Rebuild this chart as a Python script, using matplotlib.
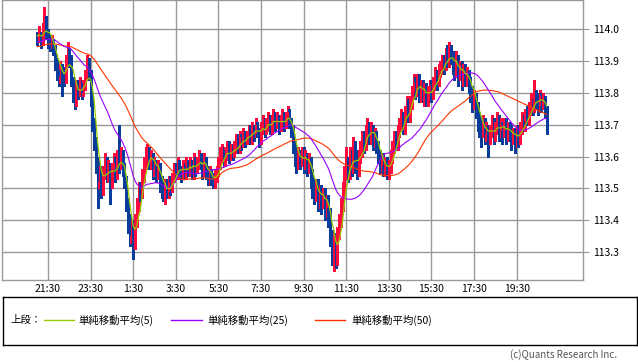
import matplotlib
matplotlib.use('Agg')
import matplotlib.pyplot as plt
import numpy as np
import pandas as pd

plt.rcParams['font.family'] = ['Noto Sans CJK JP', 'DejaVu Sans']

# 5-minute candles from 21:00, one row per hour
close_rows = [
    [113.97, 113.99, 113.96, 114.00, 114.03, 113.99, 113.97, 113.95, 113.96, 113.94, 113.90, 113.87],
    [113.85, 113.88, 113.86, 113.84, 113.90, 113.93, 113.91, 113.84, 113.80, 113.78, 113.82, 113.81],
    [113.83, 113.80, 113.82, 113.85, 113.90, 113.86, 113.78, 113.70, 113.64, 113.58, 113.52, 113.55],
    [113.50, 113.55, 113.58, 113.54, 113.57, 113.52, 113.56, 113.58, 113.55, 113.60, 113.58, 113.60],
    [113.56, 113.52, 113.45, 113.40, 113.35, 113.38, 113.33, 113.40, 113.45, 113.50, 113.48, 113.54],
    [113.58, 113.60, 113.62, 113.58, 113.60, 113.56, 113.58, 113.55, 113.57, 113.52, 113.50, 113.48],
    [113.51, 113.49, 113.52, 113.50, 113.53, 113.56, 113.55, 113.58, 113.56, 113.54, 113.57, 113.55],
    [113.58, 113.56, 113.58, 113.55, 113.59, 113.56, 113.58, 113.60, 113.58, 113.56, 113.59, 113.55],
    [113.53, 113.55, 113.53, 113.52, 113.54, 113.55, 113.58, 113.60, 113.62, 113.59, 113.61, 113.63],
    [113.60, 113.62, 113.61, 113.63, 113.65, 113.62, 113.66, 113.64, 113.67, 113.65, 113.66, 113.68],
    [113.66, 113.69, 113.67, 113.70, 113.68, 113.66, 113.69, 113.71, 113.68, 113.70, 113.72, 113.69],
    [113.71, 113.73, 113.70, 113.72, 113.69, 113.71, 113.73, 113.70, 113.72, 113.74, 113.71, 113.68],
    [113.63, 113.60, 113.58, 113.61, 113.59, 113.61, 113.58, 113.60, 113.57, 113.59, 113.54, 113.50],
    [113.48, 113.51, 113.47, 113.49, 113.46, 113.48, 113.44, 113.46, 113.42, 113.35, 113.30, 113.33],
    [113.28, 113.36, 113.40, 113.45, 113.50, 113.55, 113.58, 113.55, 113.60, 113.57, 113.62, 113.59],
    [113.56, 113.60, 113.62, 113.66, 113.64, 113.68, 113.70, 113.66, 113.69, 113.65, 113.67, 113.63],
    [113.60, 113.57, 113.59, 113.56, 113.58, 113.55, 113.57, 113.60, 113.63, 113.66, 113.64, 113.68],
    [113.70, 113.72, 113.69, 113.74, 113.76, 113.73, 113.77, 113.80, 113.83, 113.81, 113.84, 113.80],
    [113.82, 113.79, 113.81, 113.78, 113.80, 113.82, 113.80, 113.83, 113.85, 113.84, 113.87, 113.88],
    [113.90, 113.88, 113.92, 113.90, 113.93, 113.91, 113.89, 113.87, 113.90, 113.86, 113.88, 113.85],
    [113.87, 113.84, 113.86, 113.83, 113.80, 113.77, 113.79, 113.75, 113.72, 113.70, 113.68, 113.70],
    [113.67, 113.69, 113.66, 113.68, 113.70, 113.67, 113.69, 113.71, 113.68, 113.70, 113.68, 113.70],
    [113.67, 113.69, 113.68, 113.66, 113.67, 113.65, 113.68, 113.66, 113.69, 113.71, 113.70, 113.73],
    [113.72, 113.75, 113.77, 113.76, 113.79, 113.78, 113.76, 113.79, 113.77, 113.78, 113.75, 113.70],
]

high_rows = [
    [113.99, 114.01, 113.99, 114.02, 114.07, 114.04, 114.00, 113.98, 113.98, 113.97, 113.95, 113.91],
    [113.89, 113.90, 113.89, 113.88, 113.92, 113.96, 113.94, 113.92, 113.85, 113.82, 113.84, 113.84],
    [113.85, 113.84, 113.84, 113.87, 113.92, 113.91, 113.87, 113.80, 113.72, 113.66, 113.60, 113.57],
    [113.57, 113.57, 113.61, 113.60, 113.59, 113.58, 113.58, 113.61, 113.60, 113.62, 113.70, 113.63],
    [113.62, 113.58, 113.54, 113.47, 113.42, 113.40, 113.40, 113.42, 113.47, 113.52, 113.52, 113.56],
    [113.60, 113.63, 113.64, 113.63, 113.62, 113.61, 113.60, 113.59, 113.59, 113.58, 113.54, 113.52],
    [113.53, 113.53, 113.54, 113.54, 113.55, 113.58, 113.58, 113.60, 113.59, 113.57, 113.59, 113.58],
    [113.60, 113.59, 113.60, 113.59, 113.61, 113.60, 113.60, 113.62, 113.61, 113.59, 113.61, 113.60],
    [113.57, 113.57, 113.56, 113.55, 113.56, 113.57, 113.60, 113.63, 113.64, 113.63, 113.63, 113.65],
    [113.65, 113.64, 113.64, 113.65, 113.67, 113.67, 113.68, 113.67, 113.69, 113.68, 113.68, 113.70],
    [113.70, 113.71, 113.70, 113.72, 113.71, 113.69, 113.71, 113.73, 113.72, 113.72, 113.74, 113.73],
    [113.73, 113.75, 113.74, 113.74, 113.73, 113.73, 113.75, 113.74, 113.74, 113.76, 113.75, 113.72],
    [113.70, 113.65, 113.62, 113.63, 113.62, 113.63, 113.63, 113.62, 113.61, 113.61, 113.60, 113.56],
    [113.53, 113.53, 113.53, 113.51, 113.51, 113.50, 113.50, 113.48, 113.48, 113.44, 113.37, 113.36],
    [113.36, 113.38, 113.42, 113.47, 113.52, 113.57, 113.63, 113.60, 113.63, 113.62, 113.66, 113.65],
    [113.62, 113.62, 113.65, 113.68, 113.68, 113.70, 113.72, 113.71, 113.71, 113.70, 113.69, 113.68],
    [113.65, 113.62, 113.61, 113.61, 113.60, 113.60, 113.59, 113.62, 113.65, 113.68, 113.68, 113.70],
    [113.72, 113.75, 113.74, 113.76, 113.79, 113.78, 113.79, 113.82, 113.86, 113.85, 113.86, 113.86],
    [113.84, 113.84, 113.83, 113.83, 113.82, 113.84, 113.84, 113.85, 113.88, 113.87, 113.89, 113.90],
    [113.92, 113.92, 113.94, 113.95, 113.96, 113.95, 113.93, 113.92, 113.93, 113.92, 113.90, 113.90],
    [113.89, 113.89, 113.88, 113.87, 113.85, 113.82, 113.81, 113.80, 113.77, 113.74, 113.72, 113.73],
    [113.72, 113.71, 113.70, 113.70, 113.73, 113.72, 113.71, 113.74, 113.73, 113.72, 113.71, 113.72],
    [113.72, 113.71, 113.71, 113.70, 113.69, 113.69, 113.70, 113.70, 113.71, 113.74, 113.73, 113.75],
    [113.76, 113.77, 113.80, 113.78, 113.84, 113.81, 113.80, 113.81, 113.80, 113.80, 113.79, 113.76],
]

low_rows = [
    [113.95, 113.96, 113.94, 113.95, 113.99, 113.97, 113.94, 113.93, 113.94, 113.92, 113.87, 113.84],
    [113.82, 113.83, 113.79, 113.82, 113.83, 113.88, 113.88, 113.82, 113.77, 113.75, 113.76, 113.78],
    [113.79, 113.78, 113.79, 113.81, 113.84, 113.84, 113.76, 113.68, 113.62, 113.55, 113.44, 113.50],
    [113.47, 113.48, 113.53, 113.52, 113.52, 113.45, 113.50, 113.54, 113.52, 113.53, 113.55, 113.56],
    [113.54, 113.50, 113.43, 113.36, 113.32, 113.33, 113.28, 113.31, 113.38, 113.43, 113.46, 113.47],
    [113.52, 113.56, 113.58, 113.56, 113.56, 113.53, 113.54, 113.52, 113.53, 113.49, 113.47, 113.46],
    [113.45, 113.47, 113.47, 113.48, 113.49, 113.52, 113.53, 113.53, 113.54, 113.52, 113.53, 113.53],
    [113.53, 113.54, 113.54, 113.53, 113.53, 113.54, 113.55, 113.56, 113.56, 113.53, 113.54, 113.53],
    [113.51, 113.51, 113.51, 113.50, 113.50, 113.52, 113.54, 113.56, 113.58, 113.57, 113.57, 113.59],
    [113.58, 113.59, 113.59, 113.60, 113.61, 113.61, 113.61, 113.62, 113.63, 113.63, 113.64, 113.65],
    [113.64, 113.64, 113.65, 113.66, 113.66, 113.63, 113.64, 113.67, 113.66, 113.67, 113.68, 113.67],
    [113.67, 113.69, 113.68, 113.69, 113.67, 113.68, 113.70, 113.68, 113.69, 113.71, 113.69, 113.66],
    [113.61, 113.57, 113.55, 113.56, 113.56, 113.57, 113.55, 113.56, 113.54, 113.55, 113.50, 113.47],
    [113.45, 113.46, 113.43, 113.44, 113.42, 113.44, 113.40, 113.41, 113.38, 113.32, 113.26, 113.24],
    [113.25, 113.26, 113.34, 113.38, 113.43, 113.48, 113.53, 113.52, 113.53, 113.54, 113.55, 113.55],
    [113.53, 113.54, 113.58, 113.60, 113.61, 113.62, 113.66, 113.64, 113.64, 113.62, 113.63, 113.61],
    [113.58, 113.55, 113.55, 113.54, 113.54, 113.53, 113.53, 113.55, 113.58, 113.61, 113.62, 113.62],
    [113.66, 113.68, 113.67, 113.67, 113.72, 113.71, 113.71, 113.75, 113.78, 113.78, 113.79, 113.77],
    [113.77, 113.77, 113.76, 113.76, 113.76, 113.78, 113.77, 113.78, 113.81, 113.81, 113.82, 113.85],
    [113.86, 113.86, 113.87, 113.88, 113.88, 113.89, 113.86, 113.84, 113.85, 113.82, 113.84, 113.81],
    [113.82, 113.82, 113.82, 113.80, 113.77, 113.74, 113.75, 113.72, 113.68, 113.66, 113.63, 113.66],
    [113.64, 113.65, 113.60, 113.64, 113.66, 113.64, 113.65, 113.67, 113.65, 113.66, 113.64, 113.66],
    [113.64, 113.65, 113.65, 113.62, 113.64, 113.61, 113.63, 113.63, 113.64, 113.67, 113.68, 113.68],
    [113.70, 113.70, 113.73, 113.73, 113.74, 113.75, 113.73, 113.74, 113.74, 113.75, 113.72, 113.67],
]

# closes before 21:00 (only used to start the moving averages)
prev_close = [
    113.92, 113.93, 113.91, 113.92, 113.94, 113.93, 113.92, 113.91, 113.93, 113.92, 113.94, 113.93,
    113.92, 113.91, 113.93, 113.92, 113.94, 113.93, 113.92, 113.94, 113.93, 113.95, 113.94, 113.96, 113.95,
    113.94, 113.96, 113.95, 113.97, 113.96, 113.95, 113.97, 113.96, 113.94, 113.95, 113.96, 113.97,
    113.95, 113.96, 113.94, 113.95, 113.96, 113.95, 113.94, 113.96,
    113.97, 113.98, 113.99, 113.98,
]

tick_labels = ['21:30', '23:30', '1:30', '3:30', '5:30', '7:30', '9:30',
               '11:30', '13:30', '15:30', '17:30', '19:30']
y_ticks = [113.3, 113.4, 113.5, 113.6, 113.7, 113.8, 113.9, 114.0]

close = np.array(close_rows).ravel()
high = np.array(high_rows).ravel()
low = np.array(low_rows).ravel()
opn = np.concatenate([[prev_close[-1]], close[:-1]])

s = pd.Series(prev_close + list(close))
n0 = len(prev_close)
ma5 = s.rolling(5).mean().to_numpy()[n0:]
ma25 = s.rolling(25).mean().to_numpy()[n0:]
ma50 = s.rolling(50).mean().to_numpy()[n0:]

RED = '#ff0a3c'
BLUE = '#0a3c9c'
GRID = '#999999'

fig = plt.figure(figsize=(6.38, 3.62), dpi=100)
ax = fig.add_axes([2 / 638, 82 / 362, 581 / 638, 280 / 362])

x = np.arange(len(close))
up = close >= opn
cols = np.where(up, RED, BLUE)
ax.vlines(x, low, high, colors=cols, linewidth=0.75, zorder=3, antialiased=False)
body = np.maximum(np.abs(close - opn), 0.003)
ax.bar(x, body, bottom=np.minimum(close, opn), width=1.0, color=cols,
       linewidth=0, zorder=3, antialiased=False)

ax.plot(x, ma50, color='#ff3300', lw=0.8, zorder=4)
ax.plot(x, ma25, color='#9900ff', lw=0.8, zorder=4)
ax.plot(x, ma5, color='#99cc00', lw=0.9, zorder=5)

ax.set_xlim(-19.9, 307.4)
ax.set_ylim(113.213, 114.091)
ax.set_xticks(np.arange(6, 288, 24))
ax.set_xticklabels(tick_labels)
ax.set_yticks(y_ticks)
ax.set_yticklabels(['%.1f' % v for v in y_ticks])
ax.yaxis.tick_right()
ax.grid(color=GRID, lw=1, zorder=0)
ax.set_axisbelow(True)
for sp in ax.spines.values():
    sp.set_color(GRID)
    sp.set_linewidth(1)
ax.tick_params(axis='y', length=4, color=GRID, pad=3, labelsize=7.5)
ax.tick_params(axis='x', length=0, pad=3, labelsize=7.5)

# legend box
lax = fig.add_axes([3 / 638, 17 / 362, 634 / 638, 48 / 362])
lax.set_xlim(0, 634)
lax.set_ylim(0, 48)
lax.set_xticks([])
lax.set_yticks([])
for sp in lax.spines.values():
    sp.set_color('black')
    sp.set_linewidth(1)
yc = 25
lax.text(7, yc, '上段：', va='center', fontsize=7.5)
lax.plot([41, 71], [yc, yc], color='#99cc00', lw=1)
lax.text(75, yc, '単純移動平均(5)', va='center', fontsize=7.5)
lax.plot([168, 199], [yc, yc], color='#9900ff', lw=1)
lax.text(204, yc, '単純移動平均(25)', va='center', fontsize=7.5)
lax.plot([312, 342], [yc, yc], color='#ff3300', lw=1)
lax.text(348, yc, '単純移動平均(50)', va='center', fontsize=7.5)

fig.text(617 / 638, 1 - 355 / 362, '(c)Quants Research Inc.', ha='right',
         va='center', fontsize=7, color='#555555')

fig.savefig('out.png', dpi=100)
